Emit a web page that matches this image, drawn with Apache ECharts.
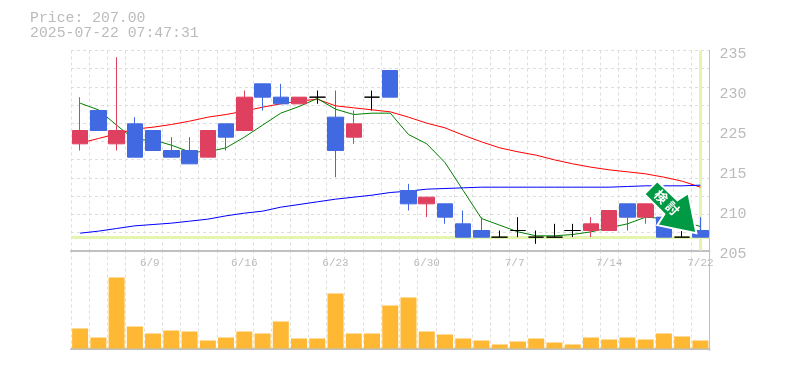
<!DOCTYPE html>
<html>
<head>
<meta charset="utf-8">
<style>html,body{margin:0;padding:0;background:#fff}#c{width:785px;height:370px}</style>
<script src="https://cdn.jsdelivr.net/npm/echarts@6/dist/echarts.min.js"></script>
</head>
<body>
<div id="c"></div>
<script>
const categories = ['6/3','6/4','6/5','6/6','6/9','6/10','6/11','6/12','6/13','6/16','6/17','6/18','6/19','6/20','6/23','6/24','6/25','6/26','6/27','6/30','7/1','7/2','7/3','7/4','7/7','7/8','7/9','7/10','7/11','7/14','7/15','7/16','7/17','7/18','7/22'];
const labeledDates = ['6/9','6/16','6/23','6/30','7/7','7/14','7/22'];
const titleText = 'Price: 207.00\n2025-07-22 07:47:31';
const lastPrice = 207;
// [open, close, low, high]
const candles = [
[221,223,220,228],[226,223,223,226],[221,223,220,234],[224,219,219,225],[223,220,220,223],
[220,219,219,222],[220,218,218,222],[219,223,219,223],[224,222,220,224],[223,228,223,229],
[230,228,226,230],[228,227,227,230],[227,228,227,228],[228,228,227,229],[225,220,216,229],
[222,224,221,226],[228,228,226,229],[232,228,228,232],[214,212,211,215],[212,213,210,213],
[212,210,209,212],[209,207,207,211],[208,207,207,210],[207,207,207,208],[208,208,207,210],
[207,207,206,208],[207,207,207,209],[208,208,207,209],[208,209,207,210],[208,211,208,211],
[212,210,208,212],[210,212,209,212],[210,207,207,210],[207,207,207,208],[208,207,207,210]
];
const maShort = [227.1,226.1,223.8,221.6,221.6,220.8,219.8,219.8,220.4,222,223.8,225.6,226.6,227.8,226.2,225.4,225.6,225.6,222.4,221,218.2,214,209.8,208.8,207.8,207.2,207.2,207.4,207.8,208.4,209,210,209.8,209.4,208.6];
const maMid = [221.1,221.8,222.5,223.2,223.5,223.9,224.4,225,225.4,225.9,226.5,227,227.4,227.7,226.7,226.4,226.1,225.8,225,224.1,223.4,222.3,221.3,220.4,219.8,219.3,218.6,218,217.5,217.1,216.8,216.5,216,215.4,214.5];
const maLong = [207.6,207.9,208.3,208.7,208.9,209.1,209.4,209.7,210.2,210.6,210.9,211.5,211.9,212.3,212.7,213,213.3,213.7,213.9,214.2,214.3,214.4,214.5,214.5,214.5,214.5,214.5,214.5,214.5,214.5,214.6,214.7,214.7,214.7,214.8];
const volumes = [20,11,71,22,15,18,17,8,11,17,15,27,10,10,55,15,15,43,51,17,14,10,8,4,7,10,6,4,11,9,11,9,15,12,8];
const priceTickValues = [205,211,217,223,229,235];
const priceTickLabels = ['205','210','215','225','230','235'];
const arrowLabel = '検討';

const GREY = '#c0c0c0', TEXT = '#bbbbbb', DASH = '#dedede', MONO = '"Liberation Mono", monospace';
const dashed = {show:true, lineStyle:{color:DASH, width:1, type:[3,3]}};

const chart = echarts.init(document.getElementById('c'), null, {renderer:'canvas'});
chart.setOption({
  animation:false,
  backgroundColor:'#fff',
  title:{text:titleText, left:30, top:11, padding:0,
    textStyle:{fontFamily:MONO, fontSize:14.8, fontWeight:'normal', color:TEXT, lineHeight:15}},
  grid:[
    {left:71, width:638.5, top:50.5, height:200},
    {left:71, width:638.5, top:250.5, height:100}
  ],
  xAxis:[
    {type:'category', gridIndex:0, data:categories, boundaryGap:true,
      axisLine:{show:true, lineStyle:{color:GREY, width:2}}, axisTick:{show:false},
      splitLine:{...dashed, interval:0},
      axisLabel:{show:true, margin:7, color:TEXT, fontFamily:MONO, fontSize:11,
        interval:(i,v)=>labeledDates.includes(v), formatter:v=>v.padEnd(4,' ')}},
    {type:'category', gridIndex:1, data:categories, boundaryGap:true,
      axisLine:{show:true, lineStyle:{color:GREY, width:2}}, axisTick:{show:false},
      splitLine:{...dashed, interval:0}, axisLabel:{show:false}}
  ],
  yAxis:[
    {type:'value', gridIndex:0, position:'right', min:205, max:235, splitLine:{show:false},
      axisLine:{show:true, lineStyle:{color:GREY, width:1}}, axisTick:{show:false},
      axisLabel:{show:true, customValues:priceTickValues, margin:10, color:TEXT, fontFamily:MONO, fontSize:15,
        verticalAlign:'top', lineHeight:7,
        formatter:v=>priceTickLabels[priceTickValues.indexOf(v)]}},
    {type:'value', gridIndex:0, position:'left', min:0, max:11, interval:1,
      axisLine:{show:false}, axisTick:{show:false}, axisLabel:{show:false}, splitLine:dashed},
    {type:'value', gridIndex:1, position:'right', min:-2, max:98, splitLine:{show:false},
      axisLine:{show:true, lineStyle:{color:GREY, width:1}}, axisTick:{show:false}, axisLabel:{show:false}}
  ],
  series:[
    {type:'line', name:'mid', xAxisIndex:0, yAxisIndex:0, data:maMid, showSymbol:false, z:2,
      lineStyle:{color:'#ff0000', width:1},
      markLine:{silent:true, symbol:'none', z:1, label:{show:false},
        lineStyle:{color:'#e4f5b0', width:3, type:'solid'},
        data:[{yAxis:lastPrice},{xAxis:categories[categories.length-1]}]}},
    {type:'line', name:'short', xAxisIndex:0, yAxisIndex:0, data:maShort, showSymbol:false, z:2,
      lineStyle:{color:'#008000', width:1}},
    {type:'line', name:'long', xAxisIndex:0, yAxisIndex:0, data:maLong, showSymbol:false, z:2,
      lineStyle:{color:'#0000ff', width:1}},
    {type:'candlestick', xAxisIndex:0, yAxisIndex:0, data:candles, barWidth:16, z:3,
      itemStyle:{color:'#e0405f', color0:'#4169e1', borderColor:'#e0405f', borderColor0:'#4169e1',
        borderColorDoji:'#000000', borderWidth:1}},
    {type:'bar', xAxisIndex:1, yAxisIndex:2, data:volumes, barWidth:16, z:2,
      itemStyle:{color:'#ffb833'}},
    {type:'custom', xAxisIndex:0, yAxisIndex:0, z:10, clip:false,
      data:[[categories.length-1, lastPrice]],
      renderItem:(params, api)=>{
        const p = api.coord([api.value(0), api.value(1)]);
        const pts = [[-43,-56],[-23,-37],[-12,-44],[-4,-4],[-43,-12],[-36,-23],[-56,-43]]
          .map(d=>[p[0]+d[0], p[1]+d[1]]);
        const glyph = (ch,dx,dy)=>({type:'text', x:p[0]+dx, y:p[1]+dy, rotation:-Math.PI/4, z2:2,
          style:{text:ch, fill:'#fff', align:'center', verticalAlign:'middle',
            font:'bold 13px "Noto Sans CJK JP"'}});
        return {type:'group', children:[
          {type:'polygon', shape:{points:pts}, style:{fill:'#009944', stroke:'#fff', lineWidth:2, lineJoin:'miter'}},
          glyph(arrowLabel[0],-39.3,-40.5),
          glyph(arrowLabel[1],-27.7,-28.9)
        ]};
      }}
  ]
});
</script>
</body>
</html>
